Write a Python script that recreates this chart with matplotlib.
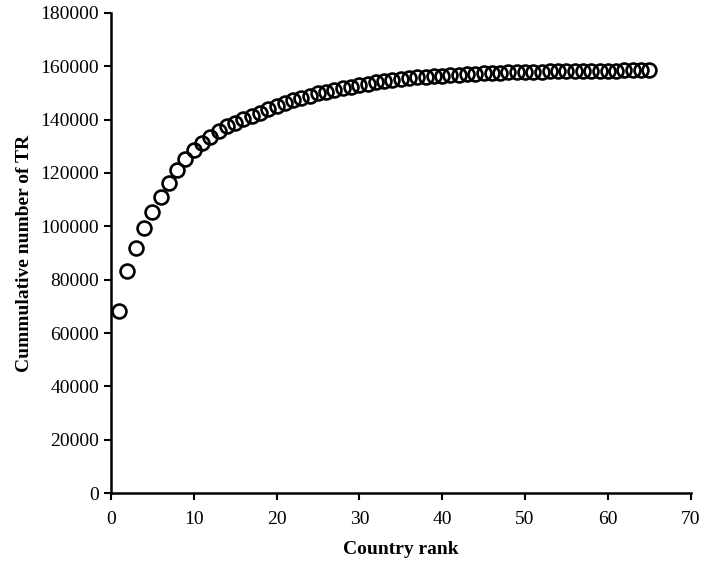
import numpy as np
import matplotlib.pyplot as plt

plt.rcParams['font.family'] = ['Liberation Serif', 'DejaVu Serif']

# Country rank and cumulative number of TR
rank = np.arange(1, 66)
cum_tr = [
    68250, 83250, 91750, 99250, 105500, 110900, 116100, 121100, 125100, 128600,
    131400, 133600, 135900, 137600, 138900, 140200, 141400, 142600, 143900, 145100,
    146200, 147200, 148100, 149000, 149800, 150500, 151200, 151800, 152400, 153000,
    153500, 154000, 154400, 154800, 155200, 155500, 155800, 156100, 156300, 156500,
    156700, 156900, 157050, 157200, 157350, 157500, 157600, 157700, 157800, 157900,
    157950, 158000, 158050, 158100, 158150, 158200, 158250, 158300, 158330, 158360,
    158390, 158420, 158450, 158480, 158500,
]

fig = plt.figure(figsize=(7.15, 5.61), dpi=100)
ax = fig.add_axes([0.155, 0.121, 0.811, 0.856])

ax.plot(rank, cum_tr, linestyle='none', marker='o', markersize=10,
        markerfacecolor='none', markeredgecolor='black', markeredgewidth=1.9)

ax.set_xlim(0, 70)
ax.set_ylim(0, 180000)
ax.set_xticks(range(0, 71, 10))
ax.set_yticks(range(0, 180001, 20000))

for s in ['top', 'right']:
    ax.spines[s].set_visible(False)
for s in ['left', 'bottom']:
    ax.spines[s].set_linewidth(1.8)
ax.tick_params(direction='out', length=5, width=1.5, labelsize=14)
ax.tick_params(axis='x', pad=8)

ax.set_xlabel('Country rank', fontsize=14, fontweight='bold', labelpad=9)
ax.set_ylabel('Cummulative number of TR', fontsize=14, fontweight='bold', labelpad=5)

fig.savefig('out.png', dpi=100)
